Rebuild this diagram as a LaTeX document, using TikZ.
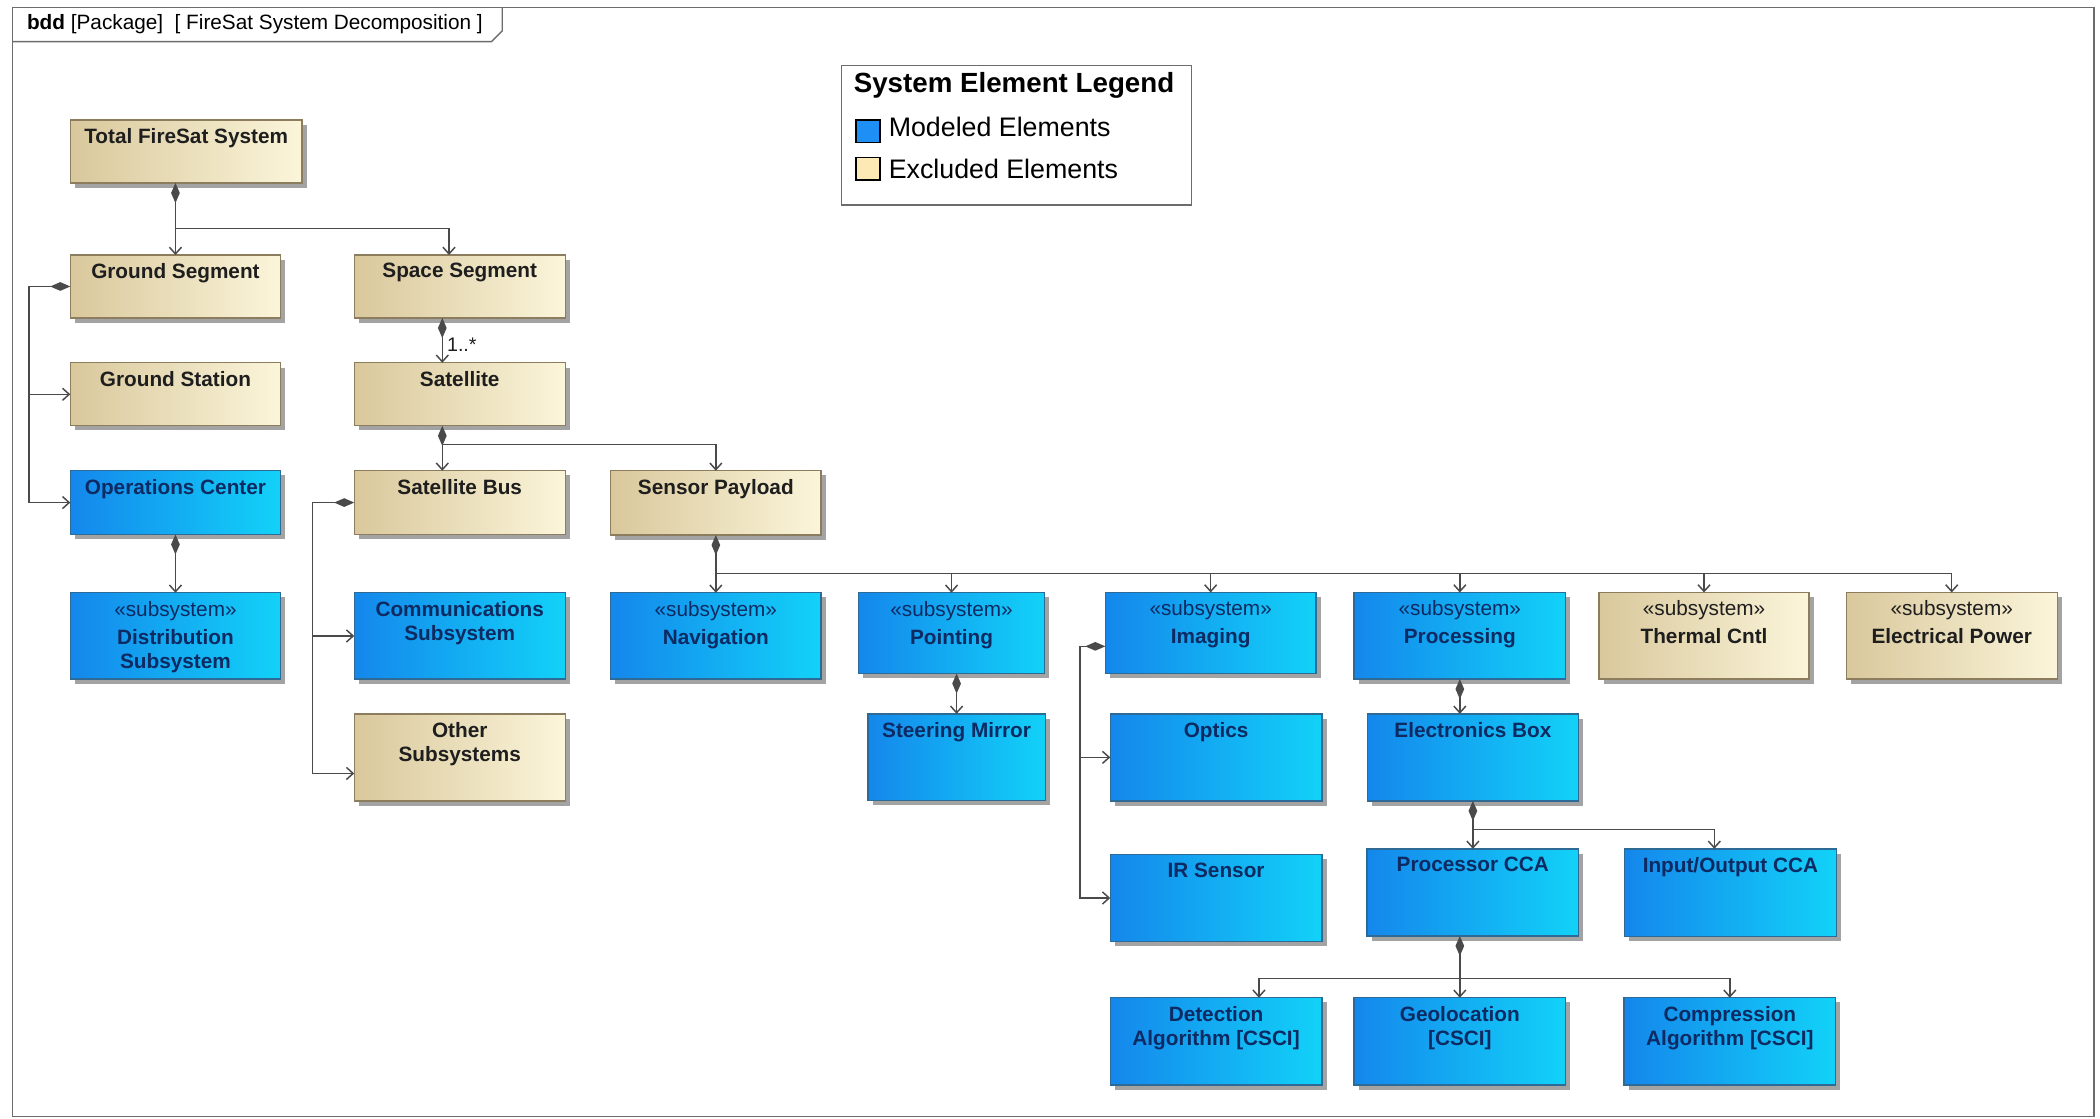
\documentclass[tikz,border=0pt]{standalone}
\usepackage{fontspec}
\setmainfont{Liberation Sans}
\usepackage{tikz}
\usetikzlibrary{calc,arrows.meta,shadows}
\definecolor{tanL}{HTML}{D9C89C}
\definecolor{tanR}{HTML}{FBF5DA}
\definecolor{tanline}{HTML}{8C7D5E}
\definecolor{tantext}{HTML}{1E1E1E}
\definecolor{blueL}{HTML}{1487EC}
\definecolor{blueR}{HTML}{12D2F8}
\definecolor{blueline}{HTML}{2E6A96}
\definecolor{bluetext}{HTML}{0D2A62}
\definecolor{linecol}{HTML}{4A4A4A}
\definecolor{framecol}{HTML}{6C6C6C}
\definecolor{shadowgray}{HTML}{A3A3A3}
\definecolor{modeled}{HTML}{1E8FF5}
\definecolor{excluded}{HTML}{FCE9B4}

\newcommand{\boxfont}{\fontsize{15.5}{18}\selectfont\bfseries}
\newcommand{\stereo}{{\mdseries «subsystem»}\\[3pt]}

\tikzset{
  blk/.style={draw, anchor=north west, inner sep=0pt, outer sep=0pt, line width=1pt,
    drop shadow={shadow xshift=3.5pt, shadow yshift=-3.5pt, fill=shadowgray, opacity=1}},
  tanblk/.style={blk, draw=tanline, left color=tanL, right color=tanR},
  blueblk/.style={blk, draw=blueline, left color=blueL, right color=blueR},
  lbl/.style={anchor=north, yshift=-6pt, align=center, font=\boxfont, inner sep=0pt, draw=none, fill=none},
  tcap/.style={label={[lbl, text=tantext]north:#1}},
  bcap/.style={label={[lbl, text=bluetext]north:#1}},
  line/.style={draw=linecol, line width=1.1pt},
  own/.style={line, {Diamond[length=15pt,width=6.5pt]}-{Straight Barb[length=5pt,width=9pt]}},
  arr/.style={line, -{Straight Barb[length=5pt,width=9pt]}},
}

\begin{document}
\begin{tikzpicture}[x=1pt,y=-1pt]
\useasboundingbox (0,0) rectangle (1568,835);
% frame and title tab
\draw[framecol, line width=1.1pt] (9.3,5.5) rectangle (1563.6,833.5);
\draw[framecol, line width=1.1pt] (9.3,31) -- (367,31) -- (375,23) -- (375,5.5);
\node[anchor=base west, inner sep=0pt, font=\fontsize{15.5}{18}\selectfont] (title) at (20,22) {\textbf{bdd} [Package]\ \ [ FireSat System Decomposition ]};

% legend
\node[draw=framecol, line width=1pt, anchor=north west, minimum width=261, minimum height=104, fill=white] (legend) at (628,48.5) {};
\node[anchor=base west, inner sep=0pt, font=\fontsize{20.7}{24}\selectfont\bfseries] (legtitle) at (637.3,69) {System Element Legend};
\node[draw=black, line width=1pt, anchor=north west, minimum width=18, minimum height=17, fill=modeled] (swm) at (638.6,89) {};
\node[anchor=base west, inner sep=0pt, font=\fontsize{20}{24}\selectfont] (legm) at (663.4,102) {Modeled Elements};
\node[draw=black, line width=1pt, anchor=north west, minimum width=18, minimum height=17, fill=excluded] (swe) at (638.6,117) {};
\node[anchor=base west, inner sep=0pt, font=\fontsize{20}{24}\selectfont] (lege) at (663.4,133) {Excluded Elements};

% blocks
\node[tanblk, minimum width=173, minimum height=47, tcap={Total FireSat System}] (total) at (52.5,89.6) {};
\node[tanblk, minimum width=157, minimum height=47, tcap={Ground Segment}] (ground) at (52.5,190.4) {};
\node[tanblk, minimum width=157.5, minimum height=47, tcap={Space Segment}] (space) at (264.5,190.4) {};
\node[tanblk, minimum width=157, minimum height=47, tcap={Ground Station}] (station) at (52.5,270.9) {};
\node[tanblk, minimum width=157.5, minimum height=47, tcap={Satellite}] (sat) at (264.5,270.9) {};
\node[blueblk, minimum width=157, minimum height=47.5, bcap={Operations Center}] (ops) at (52.5,351.5) {};
\node[tanblk, minimum width=157.5, minimum height=47.5, tcap={Satellite Bus}] (bus) at (264.5,351.5) {};
\node[tanblk, minimum width=157, minimum height=48, tcap={Sensor Payload}] (sensor) at (456,351.5) {};
\node[blueblk, minimum width=157, minimum height=64.5, bcap={\stereo Distribution\\Subsystem}] (dist) at (52.5,442.6) {};
\node[blueblk, minimum width=157.5, minimum height=64.5, bcap={Communications\\Subsystem}] (comms) at (264.5,442.6) {};
\node[tanblk, minimum width=157.5, minimum height=65, tcap={Other\\Subsystems}] (other) at (264.5,533) {};
\node[blueblk, minimum width=157, minimum height=64.5, bcap={\stereo Navigation}] (nav) at (456,442.6) {};
\node[blueblk, minimum width=139, minimum height=60.3, bcap={\stereo Pointing}] (point) at (641,442.6) {};
\node[blueblk, minimum width=132.5, minimum height=64.5, bcap={Steering Mirror}] (steer) at (648,533) {};
\node[blueblk, minimum width=157.3, minimum height=60.4, bcap={\stereo Imaging}] (imag) at (825.3,442.4) {};
\node[blueblk, minimum width=158, minimum height=65, bcap={Optics}] (optics) at (829,533) {};
\node[blueblk, minimum width=158, minimum height=65, bcap={IR Sensor}] (irs) at (829,638) {};
\node[blueblk, minimum width=158, minimum height=64.6, bcap={\stereo Processing}] (proc) at (1011,442.4) {};
\node[tanblk, minimum width=156.7, minimum height=64.6, tcap={\stereo Thermal Cntl}] (therm) at (1194,442.4) {};
\node[tanblk, minimum width=157.5, minimum height=64.6, tcap={\stereo Electrical Power}] (power) at (1378.5,442.4) {};
\node[blueblk, minimum width=157.5, minimum height=65, bcap={Electronics Box}] (elec) at (1021,533) {};
\node[blueblk, minimum width=158, minimum height=65, bcap={Processor CCA}] (cpu) at (1020.7,633.8) {};
\node[blueblk, minimum width=158, minimum height=65.5, bcap={Input/Output CCA}] (io) at (1213,633.8) {};
\node[blueblk, minimum width=158, minimum height=65, bcap={Detection\\Algorithm [CSCI]}] (det) at (829,745) {};
\node[blueblk, minimum width=158, minimum height=65, bcap={Geolocation\\[0pt][CSCI]}] (geo) at (1011,745) {};
\node[blueblk, minimum width=158, minimum height=65, bcap={Compression\\Algorithm [CSCI]}] (comp) at (1212.6,745) {};

% Total FireSat System
\coordinate (j1) at ($(total.south)!0.63!(ground.north)$);
\draw[own] (total.south -| ground.north) -- (ground.north);
\draw[arr] (j1 -| ground.north) -| ([xshift=-8]space.north);
% Ground Segment
\coordinate (gbus) at ([xshift=-31]ground.west);
\draw[own] (ground.west) -- (gbus) |- (ops.west);
\draw[arr] (gbus |- station.west) -- (station.west);
% Space Segment
\coordinate (spport) at ([xshift=-13]space.south);
\draw[own] (spport) -- node[pos=0.6, anchor=west, inner sep=3pt, font=\fontsize{14.7}{17}\selectfont, text=tantext] {1..*} (spport |- sat.north);
% Satellite
\coordinate (satport) at ([xshift=-13]sat.south);
\coordinate (j2) at ($(sat.south)!0.42!(bus.north)$);
\draw[own] (satport) -- (satport |- bus.north);
\draw[arr] (j2 -| satport) -| (sensor.north);
% Operations Center
\draw[own] (ops.south) -- (dist.north);
% Satellite Bus
\coordinate (bbus) at ([xshift=-31]bus.west);
\coordinate (othin) at ([yshift=-12]other.west);
\draw[own] (bus.west) -- (bbus) |- (othin);
\draw[arr] (bbus |- comms.west) -- (comms.west);
% Sensor Payload
\coordinate (j3) at ($(sensor.south)!0.67!(nav.north)$);
\draw[own] (sensor.south) -- (sensor.south |- nav.north);
\foreach \n in {point,imag,proc,therm,power}
  \draw[arr] (j3 -| sensor.south) -| (\n.north);
% Pointing
\draw[own] (point.south -| steer.north) -- (steer.north);
% Imaging
\coordinate (iport) at ([yshift=-10]imag.west);
\coordinate (ibus) at ([xshift=-19]iport);
\draw[own] (iport) -- (ibus) |- (irs.west);
\draw[arr] (ibus |- optics.west) -- (optics.west);
% Processing
\draw[own] (proc.south) -- (proc.south |- elec.north);
% Electronics Box
\coordinate (j4) at ($(elec.south)!0.6!(cpu.north)$);
\coordinate (ioin) at ([xshift=-12]io.north);
\draw[own] (elec.south) -- (elec.south |- cpu.north);
\draw[arr] (j4 -| elec.south) -| (ioin);
% Processor CCA
\coordinate (j5) at ($(cpu.south)!0.69!(geo.north)$);
\coordinate (detin) at ([xshift=32]det.north);
\draw[own] (cpu.south -| geo.north) -- (geo.north);
\draw[arr] (j5 -| geo.north) -| (detin);
\draw[arr] (j5 -| geo.north) -| (comp.north);
\end{tikzpicture}
\end{document}
